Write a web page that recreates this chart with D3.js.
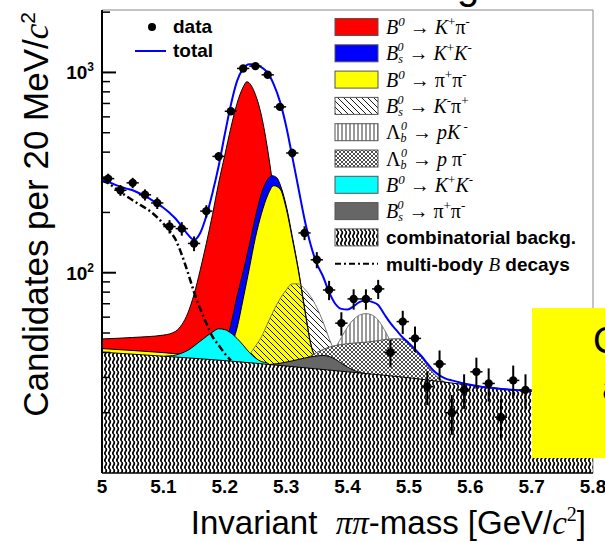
<!DOCTYPE html>
<html>
<head>
<meta charset="utf-8">
<script src="https://cdn.jsdelivr.net/npm/d3@7"></script>
<style>
  html, body { margin: 0; padding: 0; background: #fff; }
  svg { display: block; }
</style>
</head>
<body>
<svg id="chart" width="605" height="542"></svg>
<script>
// ---- measured histogram: bin centres (GeV/c^2) and candidate counts per 20 MeV ----
const dataMass = [5.01,5.03,5.05,5.07,5.09,5.11,5.13,5.15,5.17,5.19,5.21,5.23,5.25,5.27,5.29,
                  5.31,5.33,5.35,5.37,5.39,5.41,5.43,5.45,5.47,5.49,5.51,5.53,5.55,5.57,5.59,
                  5.61,5.63,5.65,5.67,5.69];
const dataCounts = [295,258,281,245,223,170,166,140,203,381,640,1047,1075,973,673,
                    396,158,116,82,56,74,74,83,40,57,47,27,35,20,26,
                    32,28,19,29,26];

// ---- fit projection: total ----
const totalMass  = [5.00,5.01,5.02,5.03,5.04,5.05,5.06,5.07,5.08,5.09,5.10,5.11,5.12,5.13,5.14,5.15,5.16,5.17,5.18,5.19,
                    5.20,5.21,5.22,5.23,5.24,5.25,5.26,5.27,5.28,5.29,5.30,5.31,5.32,5.33,5.34,5.35,5.36,5.37,5.38,5.39,
                    5.40,5.41,5.42,5.43,5.44,5.45,5.46,5.47,5.48,5.49,5.50,5.51,5.52,5.53,5.54,5.55,5.56,5.57,5.58,5.60,
                    5.62,5.64,5.66,5.68,5.70];
const totalValue = [292,284,276,269,263,258,250,241,232,222,211,199,186,170,155,146,158,192,250,340,
                    490,690,905,1045,1100,1095,1060,995,870,715,540,380,265,185,138,111,96,80,70,66,
                    65.5,68,71.5,72.7,71.5,69,62,56,51.5,47.5,44.5,41.5,38.5,35.3,32.5,30.7,29.6,29,28.5,27.6,
                    26.9,26.5,26.1,25.9,25.7];

// ---- multi-body B decays (drawn on top of the combinatorial background) ----
const multiMass  = [5.00,5.01,5.02,5.03,5.04,5.05,5.06,5.07,5.08,5.09,5.10,5.11,5.12,5.13,5.14,5.15,5.16,5.17,5.18,5.19,5.20,5.21];
const multiValue = [287,280,267,253,241,230,220,211,201,189,176,162,146,123,100,80,66,56,48,43.5,39.5,36.5];

// ---- individual components (upper edge of each drawn shape) ----
const combMass  = [5.0,5.1,5.2,5.3,5.4,5.5,5.6,5.7,5.8];
const combValue = [40.1,38.3,36.4,34.2,32.0,29.9,27.4,25.5,24.0];

const kpiMass  = [5.00,5.05,5.10,5.12,5.13,5.14,5.15,5.16,5.17,5.18,5.19,5.20,5.21,5.22,5.23,5.236,5.25,5.26,5.27,5.28,5.29,5.30,5.31,5.32,5.34,5.45];
const kpiValue = [46.7,47.5,48.8,51,55,63,78,103,140,195,280,385,530,700,845,898,775,605,410,250,140,80,55,45,40,28];

const bskkMass  = [5.18,5.19,5.20,5.21,5.22,5.23,5.24,5.25,5.26,5.27,5.277,5.285,5.29,5.30,5.31,5.32,5.33,5.34,5.35,5.37];
const bskkValue = [30,38,43,55,76,101,137,190,250,293,305,298,277,217,152,104,67,44.5,36,28];

const pipiMass  = [5.00,5.05,5.10,5.15,5.20,5.21,5.22,5.23,5.24,5.25,5.26,5.27,5.28,5.29,5.30,5.31,5.32,5.33,5.34,5.35,5.37];
const pipiValue = [41.8,40.9,39.9,38.9,39,43,53,74,105,150,198,244,272,262,210,148,102,66,44,36,28];

const bskpiMass  = [5.22,5.23,5.24,5.25,5.26,5.27,5.28,5.29,5.30,5.31,5.32,5.33,5.34,5.35,5.36,5.37,5.38,5.39,5.40,5.42];
const bskpiValue = [30,36,39,43,48,56,65,74,82,88,88,83,76,67,57,47,40,35,32,28];

const lbpkMass  = [5.33,5.35,5.36,5.37,5.38,5.39,5.40,5.41,5.42,5.43,5.44,5.45,5.46,5.47,5.48,5.49,5.50,5.52];
const lbpkValue = [30,35,36.5,38.5,42,47.5,53.5,58.5,61.5,62.5,61.5,58,52,45.5,40,35.5,32.5,27];

const lbppiMass  = [5.29,5.31,5.33,5.35,5.37,5.39,5.41,5.43,5.45,5.47,5.485,5.50,5.51,5.52,5.53,5.54,5.55,5.56,5.58,5.60];
const lbppiValue = [30,35,37,40,42.5,43.8,44.5,45,45.8,46.7,46.8,44.5,41.5,38,34.5,31.5,29.5,28.3,27.2,25];

const bkkMass  = [5.08,5.10,5.12,5.14,5.16,5.18,5.19,5.20,5.21,5.22,5.23,5.24,5.25,5.26,5.27,5.29];
const bkkValue = [34,38.1,38.8,41,45.5,50.5,52.5,52,50,47,43.5,40,37.5,36,35.3,30];

const bspipiMass  = [5.25,5.27,5.29,5.31,5.33,5.35,5.36,5.37,5.38,5.39,5.40,5.41,5.42,5.44,5.46];
const bspipiValue = [30,34.6,35.3,36.3,37.5,38.4,38.6,38.2,37,35.3,33.8,32.6,31.8,30.5,28];

// ---- axis ticks ----
const xTicks = [5, 5.1, 5.2, 5.3, 5.4, 5.5, 5.6, 5.7, 5.8];
const xTickLabels = ["5", "5.1", "5.2", "5.3", "5.4", "5.5", "5.6", "5.7", "5.8"];
const yMajorTicks = [100, 1000];
const yMajorExp = ["2", "3"];
const yMinorTicks = [20,30,40,50,60,70,80,90,200,300,400,500,600,700,800,900,2000];

// ---- legend text ----
const legendLabels = [
  [["B","i"],["0","isup"],[" \u2192 ","n"],["K","i"],["+","sup"],["\u03c0","n"],["-","sup"]],
  [["B","i"],["s","sub"],["0","stack"],[" \u2192 ","n"],["K","i"],["+","sup"],["K","i"],["-","sup"]],
  [["B","i"],["0","isup"],[" \u2192 ","n"],["\u03c0","n"],["+","sup"],["\u03c0","n"],["-","sup"]],
  [["B","i"],["s","sub"],["0","stack"],[" \u2192 ","n"],["K","i"],["-","sup"],["\u03c0","n"],["+","sup"]],
  [["\u039b","n"],["b","sub"],["0","stack"],[" \u2192 ","n"],["p","i"],["K","i"],[" -","sup"]],
  [["\u039b","n"],["b","sub"],["0","stack"],[" \u2192 ","n"],["p","i"],[" \u03c0","n"],["-","sup"]],
  [["B","i"],["0","isup"],[" \u2192 ","n"],["K","i"],["+","sup"],["K","i"],["-","sup"]],
  [["B","i"],["s","sub"],["0","stack"],[" \u2192 ","n"],["\u03c0","n"],["+","sup"],["\u03c0","n"],["-","sup"]]
];

// ---------------------------------------------------------------------------
const svg = d3.select("#chart");
const pLeft = 102, pRight = 593, pTop = 10, pBottom = 473;

const x = d3.scaleLinear().domain([5, 5.8]).range([pLeft, pRight]);
const y = d3.scaleLog().domain([10, 2050]).range([pBottom, pTop]);

const defs = svg.append("defs");
defs.append("clipPath").attr("id", "plotClip")
  .append("rect").attr("x", pLeft).attr("y", pTop).attr("width", pRight - pLeft).attr("height", pBottom - pTop);

// fill patterns: wavy vertical strokes for the combinatorial background
const wavy = defs.append("pattern").attr("id", "wavy").attr("patternUnits", "userSpaceOnUse")
  .attr("width", 4).attr("height", 7);
wavy.append("rect").attr("width", 4).attr("height", 7).attr("fill", "#fff");
wavy.append("path").attr("d", "M1.6,0 C2.6,1.2 2.6,2.3 1.6,3.5 C0.6,4.7 0.6,5.8 1.6,7")
  .attr("fill", "none").attr("stroke", "#000").attr("stroke-width", 1.7);

const diag = defs.append("pattern").attr("id", "diag").attr("patternUnits", "userSpaceOnUse")
  .attr("width", 6).attr("height", 6);
diag.append("path").attr("d", "M0,0 L6,6 M-3,3 L3,9 M3,-3 L9,3")
  .attr("stroke", "#000").attr("stroke-width", 0.9);

const diagBox = defs.append("pattern").attr("id", "diagBox").attr("patternUnits", "userSpaceOnUse")
  .attr("width", 6).attr("height", 6);
diagBox.append("rect").attr("width", 6).attr("height", 6).attr("fill", "#fff");
diagBox.append("path").attr("d", "M0,0 L6,6 M-3,3 L3,9 M3,-3 L9,3")
  .attr("stroke", "#000").attr("stroke-width", 0.9);

const vert = defs.append("pattern").attr("id", "vert").attr("patternUnits", "userSpaceOnUse")
  .attr("width", 4).attr("height", 4);
vert.append("rect").attr("width", 4).attr("height", 4).attr("fill", "#fff");
vert.append("path").attr("d", "M2,0 L2,4").attr("stroke", "#000").attr("stroke-width", 0.8);

const cross = defs.append("pattern").attr("id", "cross").attr("patternUnits", "userSpaceOnUse")
  .attr("width", 4).attr("height", 4);
cross.append("rect").attr("width", 4).attr("height", 4).attr("fill", "#fff");
cross.append("path").attr("d", "M0,0 L4,4 M4,0 L0,4").attr("stroke", "#000").attr("stroke-width", 0.7);

// ---- plot area ----
const plot = svg.append("g").attr("clip-path", "url(#plotClip)");

function pairs(ms, vs) { return ms.map((m, i) => [m, vs[i]]); }

const area = d3.area().x(d => x(d[0])).y0(pBottom + 2).y1(d => y(d[1])).curve(d3.curveMonotoneX);
const line = d3.line().x(d => x(d[0])).y(d => y(d[1])).curve(d3.curveMonotoneX);

const components = [
  { ms: kpiMass,    vs: kpiValue,    fill: "#ff0000",     edge: "#000" },
  { ms: bskkMass,   vs: bskkValue,   fill: "#0000ff",     edge: "#000" },
  { ms: pipiMass,   vs: pipiValue,   fill: "#ffff00",     edge: "#000" },
  { ms: bskpiMass,  vs: bskpiValue,  fill: "url(#diag)",  edge: "#777" },
  { ms: lbpkMass,   vs: lbpkValue,   fill: "url(#vert)",  edge: "#777" },
  { ms: lbppiMass,  vs: lbppiValue,  fill: "url(#cross)", edge: "#555" },
  { ms: bkkMass,    vs: bkkValue,    fill: "#00ffff",     edge: "#000" },
  { ms: bspipiMass, vs: bspipiValue, fill: "#666666",     edge: "#000" },
  { ms: combMass,   vs: combValue,   fill: "url(#wavy)",  edge: "#000" }
];

components.forEach(c => {
  const pts = pairs(c.ms, c.vs);
  plot.append("path").datum(pts).attr("d", area).attr("fill", c.fill).attr("stroke", "none");
  plot.append("path").datum(pts).attr("d", line).attr("fill", "none")
    .attr("stroke", c.edge).attr("stroke-width", 1);
});

// multi-body B decays, dash-dotted
plot.append("path").datum(pairs(multiMass, multiValue)).attr("d", line)
  .attr("fill", "none").attr("stroke", "#000").attr("stroke-width", 2.5)
  .attr("stroke-dasharray", "7,3,2,3");

// total fit
plot.append("path").datum(pairs(totalMass, totalValue)).attr("d", line)
  .attr("fill", "none").attr("stroke", "#0000ff").attr("stroke-width", 2);

// data points with Poisson errors
const pts = svg.append("g").attr("clip-path", "url(#plotClip)");
dataMass.forEach((m, i) => {
  const n = dataCounts[i], e = Math.sqrt(n);
  pts.append("line").attr("x1", x(m)).attr("x2", x(m))
    .attr("y1", y(n + e)).attr("y2", y(Math.max(n - e, 10.5)))
    .attr("stroke", "#000").attr("stroke-width", 2);
  pts.append("line").attr("x1", x(m - 0.01)).attr("x2", x(m + 0.01))
    .attr("y1", y(n)).attr("y2", y(n))
    .attr("stroke", "#000").attr("stroke-width", 1.5);
  pts.append("circle").attr("cx", x(m)).attr("cy", y(n)).attr("r", 4.2).attr("fill", "#000");
});

// ---- frame and axes ----
svg.append("line").attr("x1", pLeft).attr("x2", pRight).attr("y1", pTop).attr("y2", pTop)
  .attr("stroke", "#888").attr("stroke-width", 1);
svg.append("line").attr("x1", pRight).attr("x2", pRight).attr("y1", pTop).attr("y2", pBottom)
  .attr("stroke", "#888").attr("stroke-width", 1);
svg.append("line").attr("x1", pLeft).attr("x2", pRight).attr("y1", pBottom).attr("y2", pBottom)
  .attr("stroke", "#000").attr("stroke-width", 1.5);
svg.append("line").attr("x1", pLeft).attr("x2", pLeft).attr("y1", pTop).attr("y2", pBottom)
  .attr("stroke", "#000").attr("stroke-width", 2);

yMajorTicks.forEach((v, i) => {
  svg.append("line").attr("x1", pLeft).attr("x2", pLeft + 14).attr("y1", y(v)).attr("y2", y(v))
    .attr("stroke", "#000").attr("stroke-width", 2);
  const t = svg.append("text").attr("x", 94).attr("y", y(v) + 7)
    .attr("text-anchor", "end").attr("font-family", "Liberation Sans, Arial, sans-serif")
    .attr("font-weight", "bold").attr("font-size", 19);
  t.append("tspan").text("10");
  t.append("tspan").attr("dy", -8).attr("font-size", 12).text(yMajorExp[i]);
});
yMinorTicks.forEach(v => {
  svg.append("line").attr("x1", pLeft).attr("x2", pLeft + 8).attr("y1", y(v)).attr("y2", y(v))
    .attr("stroke", "#000").attr("stroke-width", 1.5);
});

xTicks.forEach((v, i) => {
  svg.append("text").attr("x", x(v)).attr("y", 493)
    .attr("text-anchor", "middle").attr("font-family", "Liberation Sans, Arial, sans-serif")
    .attr("font-weight", "bold").attr("font-size", 19).text(xTickLabels[i]);
});

// axis titles
const xt = svg.append("text").attr("x", 586).attr("y", 534).attr("text-anchor", "end")
  .attr("font-family", "Liberation Sans, Arial, sans-serif").attr("font-size", 33);
xt.append("tspan").text("Invariant\u00a0 ");
xt.append("tspan").attr("font-family", "Liberation Serif, Times New Roman, serif").attr("font-style", "italic").text("\u03c0\u03c0");
xt.append("tspan").text("-mass [GeV/");
xt.append("tspan").attr("font-family", "Liberation Serif, Times New Roman, serif").attr("font-style", "italic").text("c");
xt.append("tspan").attr("dy", -13).attr("font-size", 20).attr("font-family", "Liberation Serif, Times New Roman, serif").text("2");
xt.append("tspan").attr("dy", 13).text("]");

const yt = svg.append("text").attr("transform", "translate(48,12) rotate(-90)").attr("text-anchor", "end")
  .attr("font-family", "Liberation Sans, Arial, sans-serif").attr("font-size", 35);
yt.append("tspan").text("Candidates per 20 MeV/");
yt.append("tspan").attr("font-family", "Liberation Serif, Times New Roman, serif").attr("font-style", "italic").text("c");
yt.append("tspan").attr("dy", -13).attr("font-size", 21).text("2");

// ---- legend ----
const sans = "Liberation Sans, Arial, sans-serif";
const serif = "Liberation Serif, Times New Roman, serif";

svg.append("circle").attr("cx", 152).attr("cy", 27).attr("r", 4).attr("fill", "#000");
svg.append("text").attr("x", 173).attr("y", 33).attr("font-family", sans).attr("font-weight", "bold")
  .attr("font-size", 19).text("data");
svg.append("line").attr("x1", 135).attr("x2", 166).attr("y1", 51).attr("y2", 51)
  .attr("stroke", "#0000ff").attr("stroke-width", 2);
svg.append("text").attr("x", 173).attr("y", 57).attr("font-family", sans).attr("font-weight", "bold")
  .attr("font-size", 19).text("total");

const legendFills = ["#ff0000", "#0000ff", "#ffff00", "url(#diagBox)", "url(#vert)", "url(#cross)", "#00ffff", "#666666", "url(#wavy)"];
const rowY = i => 27 + 26.3 * i;

legendFills.forEach((f, i) => {
  svg.append("rect").attr("x", 335).attr("y", rowY(i) - 8.5).attr("width", 43).attr("height", 17)
    .attr("fill", f).attr("stroke", "#555").attr("stroke-width", 1);
});

legendLabels.forEach((pieces, i) => {
  const base = rowY(i) + 7;
  const t = svg.append("text").attr("x", 386).attr("y", base).attr("font-family", serif).attr("font-size", 20);
  pieces.forEach(([s, k]) => {
    const ts = t.append("tspan").text(s);
    if (k === "i") ts.attr("font-style", "italic").attr("y", base);
    else if (k === "n") ts.attr("y", base);
    else if (k === "sup") ts.attr("y", base - 8).attr("font-size", 13);
    else if (k === "isup") ts.attr("y", base - 8).attr("font-size", 13).attr("font-style", "italic");
    else if (k === "sub") ts.attr("y", base + 3).attr("font-size", 12).attr("font-style", "italic");
    else if (k === "stack") ts.attr("y", base - 9).attr("dx", -5.5).attr("font-size", 12).attr("font-style", "italic");
  });
});

svg.append("text").attr("x", 386).attr("y", rowY(8) + 7).attr("font-family", sans)
  .attr("font-weight", "bold").attr("font-size", 19).text("combinatorial backg.");

svg.append("line").attr("x1", 335).attr("x2", 378).attr("y1", rowY(9)).attr("y2", rowY(9))
  .attr("stroke", "#000").attr("stroke-width", 2).attr("stroke-dasharray", "6,3,2,3");
const mb = svg.append("text").attr("x", 386).attr("y", rowY(9) + 7).attr("font-family", sans)
  .attr("font-weight", "bold").attr("font-size", 19);
mb.append("tspan").text("multi-body ");
mb.append("tspan").attr("font-family", serif).attr("font-weight", "normal").attr("font-style", "italic").text("B");
mb.append("tspan").text(" decays");

// ---- overlays at the page edges ----
svg.append("text").attr("x", 457).attr("y", -1).attr("font-family", sans).attr("font-size", 40).text("g");

svg.append("rect").attr("x", 532).attr("y", 308).attr("width", 80).attr("height", 150).attr("fill", "#ffff00");
svg.append("text").attr("x", 593).attr("y", 353).attr("font-family", sans).attr("font-size", 37).text("C");
svg.append("text").attr("x", 602).attr("y", 400).attr("font-family", sans).attr("font-size", 37).text("a");
</script>
</body>
</html>
